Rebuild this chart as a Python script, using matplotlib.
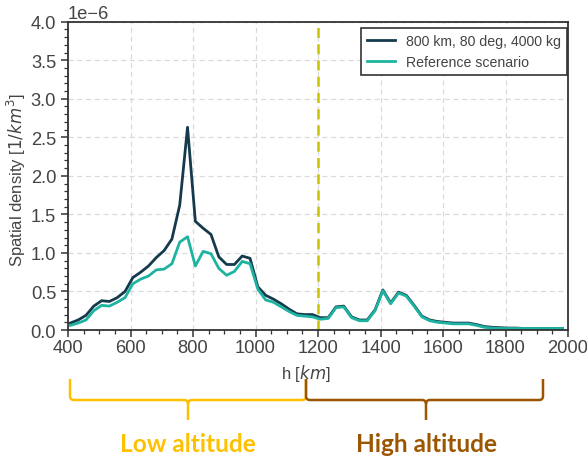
import numpy as np
import matplotlib
matplotlib.use("Agg")
import matplotlib.pyplot as plt
from matplotlib.path import Path
from matplotlib.patches import PathPatch
from matplotlib.ticker import MultipleLocator

plt.rcParams['font.family'] = ['Liberation Sans', 'DejaVu Sans']

# altitude bin centres [km]
altitude = np.arange(407.5, 2000, 25)

# spatial density in units of 1e-6 / km^3
density_case = [0.09, 0.13, 0.19, 0.31, 0.38, 0.37, 0.42, 0.50, 0.68, 0.75,
                0.83, 0.94, 1.03, 1.18, 1.62, 2.63, 1.41, 1.32, 1.24, 0.95,
                0.85, 0.85, 0.96, 0.93, 0.56, 0.45, 0.40, 0.34, 0.27, 0.21,
                0.20, 0.20, 0.16, 0.16, 0.30, 0.31, 0.17, 0.13, 0.13, 0.26,
                0.52, 0.35, 0.49, 0.45, 0.32, 0.18, 0.13, 0.11, 0.10, 0.09,
                0.09, 0.09, 0.07, 0.045, 0.035, 0.03, 0.025, 0.025, 0.02, 0.02,
                0.02, 0.02, 0.02, 0.02]
density_ref = [0.06, 0.09, 0.13, 0.25, 0.32, 0.31, 0.36, 0.42, 0.60, 0.66,
               0.70, 0.78, 0.79, 0.86, 1.14, 1.21, 0.83, 1.02, 0.99, 0.80,
               0.71, 0.76, 0.89, 0.86, 0.53, 0.39, 0.36, 0.30, 0.24, 0.19,
               0.18, 0.17, 0.14, 0.15, 0.29, 0.30, 0.16, 0.12, 0.12, 0.25,
               0.51, 0.34, 0.48, 0.44, 0.31, 0.17, 0.12, 0.10, 0.09, 0.08,
               0.08, 0.08, 0.06, 0.035, 0.025, 0.02, 0.02, 0.02, 0.02, 0.02,
               0.02, 0.02, 0.02, 0.02]
labels = ["800 km, 80 deg, 4000 kg", "Reference scenario"]
split_alt = 1200

W, H = 587, 464
fig = plt.figure(figsize=(W / 100, H / 100), dpi=100)
ax = fig.add_axes([68 / W, 1 - 331 / H, 500 / W, 308.3 / H])

dark = "#143a4c"
teal = "#1db3a0"
ax.plot(altitude, np.array(density_case) * 1e-6, color=dark, lw=2.0, label=labels[0])
ax.plot(altitude, np.array(density_ref) * 1e-6, color=teal, lw=2.0, label=labels[1])
ax.axvline(split_alt, color="#c8c400", lw=1.8, ls=(0, (4, 2.5)))

ax.set_xlim(400, 2000)
ax.set_ylim(0, 4e-6)
ax.xaxis.set_major_locator(MultipleLocator(200))
ax.xaxis.set_minor_locator(MultipleLocator(50))
ax.yaxis.set_major_locator(MultipleLocator(0.5e-6))
ax.yaxis.set_minor_locator(MultipleLocator(0.1e-6))
ax.grid(True, which="major", ls=(0, (4, 3)), color="#dadada", lw=0.9)
ax.set_axisbelow(True)

txt = "#444444"
tick_font = ["Liberation Sans Narrow", "Liberation Sans"]
for s in ax.spines.values():
    s.set_color("#333333")
    s.set_linewidth(1.3)
ax.tick_params(which="major", length=5, width=1.1, colors="#333333", labelcolor=txt)
ax.tick_params(which="minor", length=3, width=0.9, colors="#333333")
ax.tick_params(axis="x", which="major", pad=1.5)
for lab in ax.get_xticklabels() + ax.get_yticklabels():
    lab.set_family(tick_font)
    lab.set_fontsize(13.2)
off = ax.yaxis.get_offset_text()
off.set_color(txt)
off.set_family(tick_font)
off.set_fontsize(13.2)

ax.set_xlabel("h [$km$]", color=txt, fontsize=12)
ax.xaxis.set_label_coords(0.476, -0.105)
ax.set_ylabel("Spatial density [$1/km^3$]", color=txt, fontsize=12)
ax.yaxis.set_label_coords(-0.08, 0.49)

leg = ax.legend(loc="upper right", bbox_to_anchor=(0.998, 0.979), borderaxespad=0,
                fontsize=10.2, fancybox=False, framealpha=1, edgecolor="#333333")
leg.get_frame().set_linewidth(1.2)
for t in leg.get_texts():
    t.set_color(txt)


def brace(x0, x1, xm, ytop, yline, ytip, color, r=4):
    # curly brace drawn in figure pixels (y measured from the top)
    def p(x, y):
        return (x / W, 1 - y / H)
    verts = [p(x0, ytop), p(x0, yline - r), p(x0, yline), p(x0 + r, yline),
             p(xm - r, yline), p(xm, yline), p(xm, yline + r), p(xm, ytip),
             p(xm, yline + r), p(xm, yline), p(xm + r, yline),
             p(x1 - r, yline), p(x1, yline), p(x1, yline - r), p(x1, ytop)]
    codes = [Path.MOVETO, Path.LINETO, Path.CURVE3, Path.CURVE3,
             Path.LINETO, Path.CURVE3, Path.CURVE3, Path.LINETO,
             Path.MOVETO, Path.CURVE3, Path.CURVE3,
             Path.LINETO, Path.CURVE3, Path.CURVE3, Path.LINETO]
    fig.add_artist(PathPatch(Path(verts, codes), transform=fig.transFigure,
                             fill=False, edgecolor=color, lw=1.8))


low_col = "#ffc000"
high_col = "#9c5500"
brace(70, 306, 188, 380, 401, 421, low_col)
brace(306, 543, 426, 380, 401, 421, high_col)
fig.text(188 / W, 1 - 445 / H, "Low altitude", color=low_col, fontsize=17.6,
         fontweight="bold", family=["Lato", "DejaVu Sans"], ha="center", va="center")
fig.text(426 / W, 1 - 445 / H, "High altitude", color=high_col, fontsize=17.6,
         fontweight="bold", family=["Lato", "DejaVu Sans"], ha="center", va="center")

fig.savefig("out.png", dpi=100)
